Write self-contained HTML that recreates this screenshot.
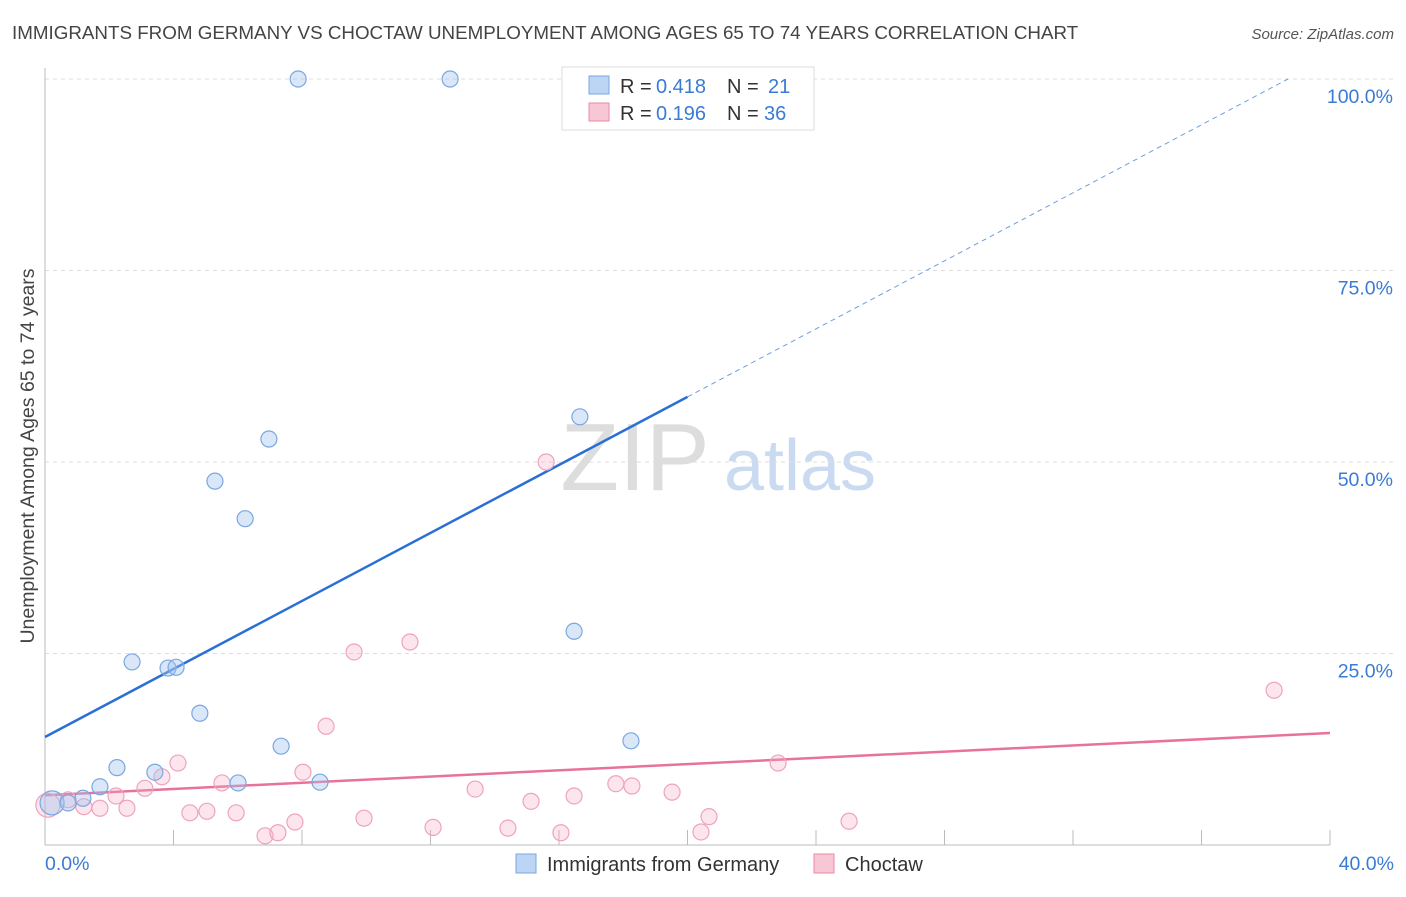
<!DOCTYPE html>
<html><head><meta charset="utf-8"><style>
body{margin:0;background:#fff;font-family:"Liberation Sans",sans-serif;}
svg text{font-family:"Liberation Sans",sans-serif;}
</style></head><body>
<svg id="chart" width="1406" height="892" xmlns="http://www.w3.org/2000/svg">
<text x="12" y="39" font-size="18.8" fill="#444">IMMIGRANTS FROM GERMANY VS CHOCTAW UNEMPLOYMENT AMONG AGES 65 TO 74 YEARS CORRELATION CHART</text>
<text x="1394" y="39" font-size="15" fill="#555" text-anchor="end" font-style="italic">Source: ZipAtlas.com</text>
<text transform="translate(34,456) rotate(-90)" font-size="19.5" fill="#444" text-anchor="middle">Unemployment Among Ages 65 to 74 years</text>
<g><text x="635" y="490" font-size="96" fill="#ddd" font-family="Liberation Serif" text-anchor="middle">ZIP</text><text x="800" y="490" font-size="72" fill="#c9daf1" text-anchor="middle">atlas</text></g>
<g id="grid"></g><g id="axes"></g><g id="lines"></g><g id="pts"></g>
<g>
<rect x="562" y="67" width="252" height="63" fill="#fff" stroke="#ddd"/>
<rect x="589" y="76" width="20" height="18" fill="#bcd5f5" stroke="#7aa7e0"/>
<text x="620" y="93" font-size="20" fill="#333">R =</text><text x="656" y="93" font-size="20" fill="#3a7bd5">0.418</text>
<text x="727" y="93" font-size="20" fill="#333">N =</text><text x="768" y="93" font-size="20" fill="#3a7bd5">21</text>
<rect x="589" y="103" width="20" height="18" fill="#f8c7d6" stroke="#e88aa8"/>
<text x="620" y="120" font-size="20" fill="#333">R =</text><text x="656" y="120" font-size="20" fill="#3a7bd5">0.196</text>
<text x="727" y="120" font-size="20" fill="#333">N =</text><text x="764" y="120" font-size="20" fill="#3a7bd5">36</text>
</g>
<g>
<rect x="516" y="854" width="20" height="19" fill="#bcd5f5" stroke="#7aa7e0"/>
<text x="547" y="871" font-size="20" fill="#333">Immigrants from Germany</text>
<rect x="814" y="854" width="20" height="19" fill="#f8c7d6" stroke="#e88aa8"/>
<text x="845" y="871" font-size="20" fill="#333">Choctaw</text>
</g>
</svg>
<script>
const yTicks=[25,50,75,100];
const yTickLabels=["25.0%","50.0%","75.0%","100.0%"];
const xTickLabels=["0.0%","40.0%"];
const blueX=[0.22,0.72,1.18,1.71,2.24,2.71,3.42,3.83,4.08,4.82,5.29,6.01,6.23,6.97,7.35,7.88,8.56,12.61,16.47,16.65,18.24];
const blueY=[5.5,5.5,6.1,7.6,10.1,23.9,9.5,23.1,23.2,17.2,47.5,8.1,42.6,53.0,12.9,100,8.2,100,27.9,55.9,13.6];
const pinkX=[0.09,0.72,1.21,1.71,2.21,2.55,3.11,3.64,4.14,4.51,5.04,5.51,5.95,6.85,7.25,7.78,8.03,8.75,9.62,9.93,11.36,12.08,13.39,14.41,15.13,15.6,16.06,16.47,17.77,18.27,19.52,20.42,20.67,22.82,25.03,38.26];
const pinkY=[5.2,5.9,5.0,4.8,6.4,4.8,7.4,8.9,10.7,4.2,4.4,8.1,4.2,1.2,1.6,3.0,9.5,15.5,25.2,3.5,26.5,2.3,7.3,2.2,5.7,50.0,1.6,6.4,8.0,7.7,6.9,1.7,3.7,10.7,3.1,20.2];
const blueTrend=[14.1,2.22];
const pinkTrend=[6.5,0.203];
const X=v=>45+v*32.125, Y=v=>845-v*7.66;
const NS="http://www.w3.org/2000/svg";
function mk(t,a,p){const e=document.createElementNS(NS,t);for(const k in a)e.setAttribute(k,a[k]);p.appendChild(e);return e;}
const grid=document.getElementById('grid'),axes=document.getElementById('axes'),lines=document.getElementById('lines'),pts=document.getElementById('pts');
yTicks.forEach((t,i)=>{
 const l=mk('line',{x1:45,x2:1394,y1:Y(t),y2:Y(t),stroke:'#ddd','stroke-dasharray':'4,4'},grid);
 
 
 const tx=mk('text',{x:1393,y:Y(t)+24,'font-size':19.5,fill:'#3a7bd5','text-anchor':'end'},grid);
 tx.textContent=yTickLabels[i];
 
 
});
const ya=mk('line',{x1:45,x2:45,y1:68,y2:845,stroke:'#bbb'},axes);


const xa=mk('line',{x1:45,x2:1330,y1:845,y2:845,stroke:'#bbb'},axes);


for(let i=0;i<=10;i++){const t=mk('line',{x1:X(i*4),x2:X(i*4),y1:830,y2:845,stroke:'#bbb'},axes);
 
 }
[[0,'start',45],[40,'end',1394]].forEach((a,i)=>{const t=mk('text',{x:a[2],y:870,'font-size':19.5,fill:'#3a7bd5','text-anchor':a[1]},axes);t.textContent=xTickLabels[i];
 
 });
const bEnd=20, bDash=(100-blueTrend[0])/blueTrend[1];
const b1=mk('line',{x1:X(0),y1:Y(blueTrend[0]),x2:X(bEnd),y2:Y(blueTrend[0]+blueTrend[1]*bEnd),stroke:'#2a6fd6','stroke-width':2.5},lines);


const b2=mk('line',{x1:X(bEnd),y1:Y(blueTrend[0]+blueTrend[1]*bEnd),x2:X(bDash),y2:Y(100),stroke:'#6e9ee0','stroke-width':1,'stroke-dasharray':'5,4'},lines);


const p1=mk('line',{x1:X(0),y1:Y(pinkTrend[0]),x2:X(40),y2:Y(pinkTrend[0]+pinkTrend[1]*40),stroke:'#e8739a','stroke-width':2.5},lines);


pinkX.forEach((x,i)=>{const c=mk('circle',{cx:X(x),cy:Y(pinkY[i]),r:i==0?12:8,fill:'rgba(244,170,195,0.3)',stroke:'#eea3bd','stroke-width':1.2},pts);
 
 });
blueX.forEach((x,i)=>{const c=mk('circle',{cx:X(x),cy:Y(blueY[i]),r:i==0?12:8,fill:'rgba(160,195,240,0.4)',stroke:'#7aa7e0','stroke-width':1.2},pts);
 
 });
</script>
</body></html>
